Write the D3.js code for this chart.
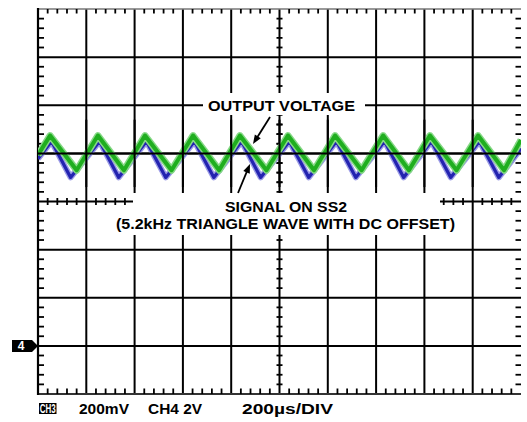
<!DOCTYPE html>
<html><head><meta charset="utf-8">
<script src="https://cdn.jsdelivr.net/npm/d3@7"></script>
<style>html,body{margin:0;padding:0;background:#fff;}svg{display:block;}</style>
</head><body>
<svg id="c" width="527" height="422"></svg>
<script>
// ---- data (time in µs, amplitude in divisions) ----
const timeDivs = [0,200,400,600,800,1000,1200,1400,1600,1800,2000];
const voltDivs = [-4,-3,-2,-1,0,1,2,3,4];
const outputT = [0,50,160,248,356,443,553,642,750,836,946,1035,1143,1230,1340,1429,1536,1623,1733,1822,1930,2000];
const outputV = [0.97,1.37,0.65,1.37,0.65,1.37,0.65,1.37,0.65,1.37,0.65,1.37,0.65,1.37,0.65,1.37,0.65,1.37,0.65,1.37,0.65,1.28];
const ss2T = [0,56,135,255,334,449,529,648,728,843,922,1041,1121,1236,1316,1435,1514,1629,1709,1828,1908,2000];
const ss2V = [0.89,1.25,0.50,1.25,0.50,1.25,0.50,1.25,0.50,1.25,0.50,1.25,0.50,1.25,0.50,1.25,0.50,1.25,0.50,1.25,0.50,1.10];
const labelOutput = "OUTPUT VOLTAGE";
const labelSS2a = "SIGNAL ON SS2";
const labelSS2b = "(5.2kHz TRIANGLE WAVE WITH DC OFFSET)";
const ch3Label = "CH3", ch3Scale = "200mV", ch4Scale = "CH4 2V", timeScale = "200µs/DIV", ch4Marker = "4";
const ch4Ground = -3; // divisions

const svg = d3.select("#c");
const x = d3.scaleLinear().domain([0,2000]).range([38,521]);
const y = d3.scaleLinear().domain([-4,4]).range([394,9]);
const minorT = d3.range(0,2000.1,40).filter(t => t % 200 !== 0);
const minorV = d3.range(-4,4.01,0.2).filter(v => Math.abs(v - Math.round(v)) > 1e-6);

const g = svg.append("g");
// grid
g.selectAll("line.vg").data(timeDivs.slice(1,10)).join("line")
  .attr("x1", d=>x(d)).attr("x2", d=>x(d)).attr("y1", y(4)).attr("y2", y(-4))
  .attr("stroke","#000").attr("stroke-width",2);
g.selectAll("line.hg").data(voltDivs.slice(1,8)).join("line")
  .attr("x1", x(0)).attr("x2", x(2000)).attr("y1", d=>y(d)).attr("y2", d=>y(d))
  .attr("stroke","#000").attr("stroke-width",2);
// borders
g.append("line").attr("x1",x(0)).attr("x2",x(2000)).attr("y1",y(4)).attr("y2",y(4)).attr("stroke","#777").attr("stroke-width",1.6);
g.append("line").attr("x1",x(0)).attr("x2",x(2000)).attr("y1",y(-4)).attr("y2",y(-4)).attr("stroke","#333").attr("stroke-width",2);
g.append("line").attr("x1",x(0)).attr("x2",x(0)).attr("y1",y(4)-1).attr("y2",y(-4)+1).attr("stroke","#000").attr("stroke-width",2.2);
// edge ticks
const tk = (data, f) => g.append("g").selectAll("line").data(data).join("line").each(function(d){
  const a=f(d); d3.select(this).attr("x1",a[0]).attr("y1",a[1]).attr("x2",a[2]).attr("y2",a[3]);
}).attr("stroke","#000").attr("stroke-width",1.8);
tk(minorT, d=>[x(d),y(4),x(d),y(4)+4.5]);
tk(minorT, d=>[x(d),y(-4),x(d),y(-4)-5.5]);
tk(minorV, d=>[x(0),y(d),x(0)+6,y(d)]);
tk(minorV, d=>[x(2000)-5.5,y(d),x(2000),y(d)]);
// center ticks
tk(minorT, d=>[x(d),y(0)-3.5,x(d),y(0)+3.5]);
tk(minorV, d=>[x(1000)-3,y(d),x(1000)+3,y(d)]);

// label backgrounds
g.append("rect").attr("x",203).attr("y",93).attr("width",162).attr("height",22).attr("fill","#fff");
g.append("rect").attr("x",133).attr("y",193).attr("width",307).attr("height",42).attr("fill","#fff");

// waves
const line = d3.line().x(d=>x(d[0])).y(d=>y(d[1]));
const ss2 = ss2T.map((t,i)=>[t,ss2V[i]]);
const outp = outputT.map((t,i)=>[t,outputV[i]]);
svg.append("clipPath").attr("id","cp").append("rect").attr("x",x(0)).attr("y",y(4)).attr("width",x(2000)-x(0)).attr("height",y(-4)-y(4));
const w = svg.append("g").attr("clip-path","url(#cp)");
w.append("path").attr("d",line(ss2)).attr("fill","none").attr("stroke","#9a9ae6").attr("stroke-width",6).attr("stroke-linejoin","round");
w.append("path").attr("d",line(ss2)).attr("fill","none").attr("stroke","#2323b0").attr("stroke-width",3.2).attr("stroke-linejoin","round");
w.append("path").attr("d",line(outp)).attr("fill","none").attr("stroke","#86d886").attr("stroke-width",7).attr("stroke-linejoin","round");
w.append("path").attr("d",line(outp)).attr("fill","none").attr("stroke","#1fae1f").attr("stroke-width",4).attr("stroke-linejoin","round");
// grid lines that sit on top of the traces in the reference
svg.append("line").attr("x1",x(0)).attr("x2",x(2000)).attr("y1",y(1)).attr("y2",y(1)).attr("stroke","#000").attr("stroke-width",2);
svg.append("g").selectAll("line").data(timeDivs.slice(1,10)).join("line")
  .attr("x1",d=>x(d)).attr("x2",d=>x(d)).attr("y1",y(1.7)).attr("y2",y(0.3)).attr("stroke","#000").attr("stroke-width",2);
tk(minorV.filter(v=>v>0.3&&v<1.7), d=>[x(1000)-3,y(d),x(1000)+3,y(d)]);

// annotations
const font = "'Liberation Sans', Arial, Helvetica, sans-serif";
const txt = (s, cx, by, len, fs) => svg.append("text").attr("x",cx).attr("y",by).attr("text-anchor","middle")
  .attr("font-family",font).attr("font-weight","bold").attr("font-size",fs).attr("fill","#000")
  .attr("textLength",len).attr("lengthAdjust","spacingAndGlyphs").text(s);
txt(labelOutput, 281.5, 110.5, 147, 15);
txt(labelSS2a, 286, 212, 122, 15);
txt(labelSS2b, 285.5, 228.5, 339, 15);

const arrow = (x1,y1,x2,y2) => {
  const a = Math.atan2(y2-y1,x2-x1), L=9, W=3.5;
  svg.append("line").attr("x1",x1).attr("y1",y1).attr("x2",x2-Math.cos(a)*L*0.8).attr("y2",y2-Math.sin(a)*L*0.8).attr("stroke","#000").attr("stroke-width",1.8);
  const bx=x2-Math.cos(a)*L, by=y2-Math.sin(a)*L;
  svg.append("path").attr("d",`M${x2},${y2}L${bx-Math.sin(a)*W},${by+Math.cos(a)*W}L${bx+Math.sin(a)*W},${by-Math.cos(a)*W}Z`).attr("fill","#000");
};
arrow(270,117,253,144);
arrow(238,193,250,164);

// bottom labels
svg.append("rect").attr("x",39).attr("y",403).attr("width",17.5).attr("height",11).attr("fill","#000");
svg.append("text").attr("x",47.7).attr("y",413).attr("text-anchor","middle").attr("font-family",font).attr("font-weight","bold")
  .attr("font-size",12.5).attr("fill","#fff").attr("textLength",16).attr("lengthAdjust","spacingAndGlyphs").text(ch3Label);
const bl = (s, x0, len) => svg.append("text").attr("x",x0).attr("y",413.5).attr("font-family",font).attr("font-weight","bold")
  .attr("font-size",14).attr("fill","#000").attr("textLength",len).attr("lengthAdjust","spacingAndGlyphs").text(s);
bl(ch3Scale, 79, 50);
bl(ch4Scale, 148, 54);
bl(timeScale, 242, 91);

// CH4 ground marker
const gy = y(ch4Ground);
svg.append("path").attr("d",`M12,${gy-6}L32,${gy-6}L38,${gy}L32,${gy+6}L12,${gy+6}Z`).attr("fill","#000");
svg.append("text").attr("x",21).attr("y",gy+4.5).attr("text-anchor","middle").attr("font-family",font).attr("font-weight","bold")
  .attr("font-size",12).attr("fill","#fff").text(ch4Marker);
</script>
</body></html>
